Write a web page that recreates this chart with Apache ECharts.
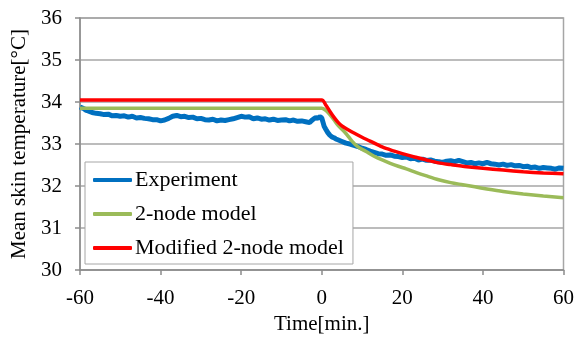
<!DOCTYPE html>
<html>
<head>
<meta charset="utf-8">
<script src="https://cdn.jsdelivr.net/npm/echarts@6/dist/echarts.min.js"></script>
<style>
html,body{margin:0;padding:0;background:#fff;}
#chart{width:577px;height:342px;}
</style>
</head>
<body>
<div id="chart"></div>
<script>
// Experiment (measured) data
const expTime = [-60,-59.5,-59,-58.5,-58,-57,-56,-55,-54,-53,-52,-51,-50,-49,-48,-47,-46,-45,-44,-43,-42,-41,-40,-39,-38,-37,-36,-35,-34,-33,-32,-31,-30,-29,-28,-27,-26,-25,-24,-23,-22,-21,-20,-19,-18,-17,-16,-15,-14,-13,-12,-11,-10,-9,-8,-7,-6,-5,-4,-3,-2.5,-2,-1.5,-1,-0.5,0,0.3,0.6,1,1.5,2,2.5,3,3.5,4,5,6,7,8,9,10,11,12,13,14,15,16,17,18,19,20,21,22,23,24,25,26,27,28,29,30,31,32,33,34,35,36,37,38,39,40,41,42,43,44,45,46,47,48,49,50,51,52,53,54,55,56,57,58,59,60];
const expTemp = [33.88,33.86,33.84,33.80,33.79,33.75,33.73,33.72,33.70,33.71,33.67,33.68,33.66,33.67,33.64,33.66,33.62,33.63,33.61,33.60,33.58,33.58,33.55,33.57,33.61,33.66,33.68,33.65,33.66,33.63,33.64,33.60,33.61,33.58,33.57,33.59,33.55,33.57,33.56,33.58,33.60,33.63,33.66,33.64,33.65,33.60,33.62,33.59,33.60,33.57,33.59,33.56,33.57,33.58,33.55,33.57,33.54,33.55,33.53,33.51,33.56,33.60,33.63,33.61,33.65,33.62,33.52,33.42,33.35,33.27,33.21,33.17,33.15,33.12,33.10,33.06,33.02,33.00,32.97,32.94,32.90,32.87,32.83,32.80,32.77,32.76,32.73,32.74,32.71,32.70,32.68,32.69,32.65,32.66,32.62,32.64,32.61,32.62,32.59,32.58,32.56,32.59,32.60,32.58,32.61,32.58,32.55,32.56,32.53,32.55,32.53,32.56,32.53,32.52,32.50,32.52,32.49,32.51,32.48,32.49,32.46,32.47,32.44,32.45,32.42,32.44,32.43,32.42,32.40,32.43,32.42];
// 2-node model
const twoNodeTime = [-60,0,1,2,3,4,5,6,7.5,9,11,13,15,17,19,21,23.5,26,29,32,35,38,41,45,50,55,60];
const twoNodeTemp = [33.85,33.85,33.80,33.70,33.58,33.45,33.35,33.25,33.07,32.93,32.82,32.71,32.62,32.54,32.47,32.41,32.32,32.24,32.15,32.08,32.03,31.98,31.93,31.87,31.81,31.76,31.72];
// Modified 2-node model
const modTime = [-60,0,1,2,3,4,5,6,8,10,12,15,18,20,23,26,29,32,36,40,45,50,55,60];
const modTemp = [34.05,34.05,33.93,33.78,33.64,33.52,33.43,33.37,33.26,33.16,33.07,32.93,32.83,32.77,32.69,32.62,32.55,32.51,32.46,32.42,32.38,32.34,32.31,32.29];

const seriesNames = ['Experiment','2-node model','Modified 2-node model'];
const seriesColors = ['#0070c0','#9bbb59','#ff0000'];
const xTicks = {min:-60, max:60, step:20};
const yTicks = {min:30, max:36, step:1};

function pairs(t, v){ return t.map((x,i)=>[x, v[i]]); }

const font = 'Liberation Serif';
const chart = echarts.init(document.getElementById('chart'), null, {renderer:'canvas'});
chart.setOption({
  animation:false,
  backgroundColor:'#fff',
  grid:{left:80, right:9, top:18, bottom:72, show:true, borderColor:'#a6a6a6', borderWidth:1.5, backgroundColor:'transparent'},
  legend:{
    orient:'vertical', left:85, top:162,
    padding:[7,9,5,8], itemGap:12,
    backgroundColor:'#fff', borderColor:'#a6a6a6', borderWidth:1,
    icon:'roundRect', itemWidth:39, itemHeight:4,
    textStyle:{fontFamily:font, fontSize:22, color:'#000', padding:[0,0,0,-2]},
    data:seriesNames
  },
  xAxis:{
    type:'value', min:xTicks.min, max:xTicks.max, interval:xTicks.step,
    name:'Time[min.]', nameLocation:'middle', nameGap:44,
    nameTextStyle:{fontFamily:font, fontSize:21, color:'#000'},
    axisLine:{show:true, onZero:false, lineStyle:{color:'#8c8c8c', width:1.5}},
    axisTick:{show:true, inside:false, length:5, lineStyle:{color:'#8c8c8c', width:1.5}},
    axisLabel:{fontFamily:font, fontSize:21, color:'#000', margin:18, showMinLabel:true, showMaxLabel:true},
    splitLine:{show:false}
  },
  yAxis:{
    type:'value', min:yTicks.min, max:yTicks.max, interval:yTicks.step,
    name:'Mean skin temperature[°C]', nameLocation:'middle', nameGap:41,
    nameTextStyle:{fontFamily:font, fontSize:21, color:'#000'},
    axisLine:{show:true, onZero:false, lineStyle:{color:'#8c8c8c', width:1.5}},
    axisTick:{show:true, inside:false, length:5, lineStyle:{color:'#8c8c8c', width:1.5}},
    axisLabel:{fontFamily:font, fontSize:21, color:'#000', margin:18},
    splitLine:{show:true, lineStyle:{color:'#a6a6a6', width:1.5}}
  },
  series:[
    {name:seriesNames[0], type:'line', showSymbol:false, symbol:'none', data:pairs(expTime, expTemp),
     lineStyle:{color:seriesColors[0], width:5}, itemStyle:{color:seriesColors[0]}},
    {name:seriesNames[1], type:'line', showSymbol:false, symbol:'none', smooth:0.3, data:pairs(twoNodeTime, twoNodeTemp),
     lineStyle:{color:seriesColors[1], width:3.5}, itemStyle:{color:seriesColors[1]}},
    {name:seriesNames[2], type:'line', showSymbol:false, symbol:'none', smooth:0.3, data:pairs(modTime, modTemp),
     lineStyle:{color:seriesColors[2], width:3.5}, itemStyle:{color:seriesColors[2]}}
  ]
});
</script>
</body>
</html>
